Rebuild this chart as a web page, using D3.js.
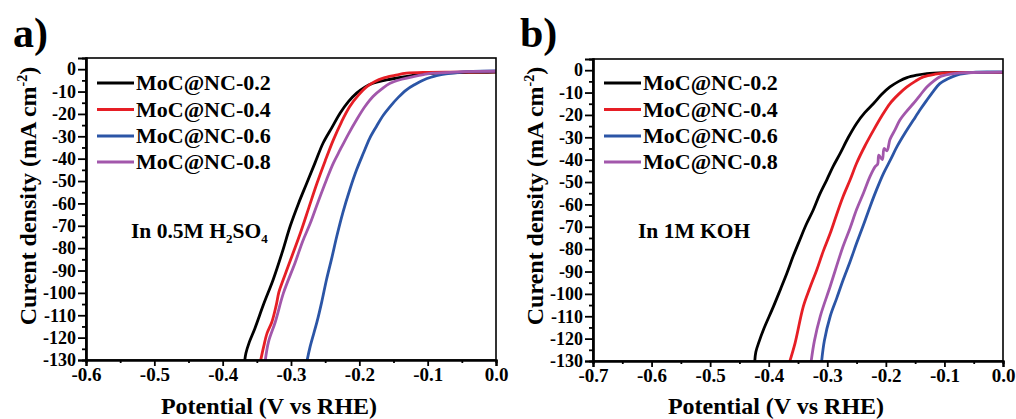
<!DOCTYPE html>
<html>
<head>
<meta charset="utf-8">
<script src="https://cdn.jsdelivr.net/npm/d3@7"></script>
<style>
  html, body { margin: 0; padding: 0; background: #fff; }
  svg { display: block; }
  text { font-family: "Liberation Serif", "Times New Roman", serif; font-weight: bold; fill: #000; }
</style>
</head>
<body>
<svg id="chart" width="1016" height="419"></svg>
<script>
// ---- data: [potential (V vs RHE), current density (mA cm^-2)] ----
const seriesNames = ["MoC@NC-0.2", "MoC@NC-0.4", "MoC@NC-0.6", "MoC@NC-0.8"];
const seriesColors = ["#000000", "#e61e25", "#2b55a6", "#a257ab"];

// 0.5 M H2SO4
const acid02 = [[-0.368,-131],[-0.366,-127],[-0.361,-122],[-0.353,-116],[-0.340,-105],[-0.326,-94],[-0.313,-82],[-0.301,-70],[-0.289,-60],[-0.277,-51],[-0.265,-42],[-0.253,-33],[-0.240,-26],[-0.228,-19.6],[-0.216,-14.5],[-0.204,-10.7],[-0.192,-8],[-0.180,-6.3],[-0.167,-5.2],[-0.155,-4.5],[-0.130,-3.2],[-0.107,-2.1],[-0.080,-1.7],[-0.050,-1.5],[-0.020,-1.4],[0,-1.3]];
const acid04 = [[-0.345,-131],[-0.340,-124],[-0.335,-118],[-0.328,-113],[-0.322,-106],[-0.318,-100],[-0.316,-98],[-0.304,-88],[-0.286,-73],[-0.274,-62],[-0.262,-51],[-0.250,-41],[-0.238,-31.6],[-0.226,-23.5],[-0.214,-16.7],[-0.201,-11.5],[-0.189,-7.8],[-0.177,-5.5],[-0.165,-4],[-0.148,-2.8],[-0.131,-1.8],[-0.100,-1.4],[-0.060,-1.3],[0,-1.2]];
const acid06 = [[-0.277,-131],[-0.272,-124],[-0.262,-113],[-0.255,-104],[-0.248,-94],[-0.240,-84],[-0.233,-74.7],[-0.224,-64],[-0.214,-53.9],[-0.204,-45],[-0.194,-37.5],[-0.185,-31],[-0.175,-25.6],[-0.165,-20.6],[-0.155,-16.7],[-0.143,-12.6],[-0.131,-9.2],[-0.118,-6.7],[-0.106,-4.8],[-0.094,-3.5],[-0.082,-2.5],[-0.060,-1.6],[-0.034,-1.0],[0,-0.8]];
const acid08 = [[-0.338,-131],[-0.333,-122],[-0.323,-113],[-0.311,-100],[-0.294,-86.5],[-0.283,-77],[-0.272,-69],[-0.260,-59],[-0.248,-49.4],[-0.238,-42],[-0.228,-36],[-0.216,-29],[-0.204,-22.6],[-0.192,-16.8],[-0.180,-12.2],[-0.167,-8.8],[-0.155,-6.3],[-0.138,-4.5],[-0.121,-3.3],[-0.106,-2.4],[-0.092,-1.8],[-0.060,-1.3],[-0.030,-1.0],[0,-0.9]];

// 1 M KOH
const alk02 = [[-0.424,-131],[-0.422,-126],[-0.416,-121],[-0.409,-116],[-0.392,-105.7],[-0.380,-98],[-0.369,-90.8],[-0.358,-83],[-0.347,-75.9],[-0.336,-69],[-0.324,-62.5],[-0.313,-55.5],[-0.301,-49.1],[-0.290,-43],[-0.278,-37.2],[-0.264,-30],[-0.250,-23.8],[-0.236,-19],[-0.221,-14.9],[-0.207,-10.8],[-0.193,-7.5],[-0.178,-5],[-0.164,-3.3],[-0.147,-2.2],[-0.130,-1.5],[-0.100,-1.1],[-0.050,-1.0],[0,-1.0]];
const alk04 = [[-0.365,-131],[-0.355,-122],[-0.341,-105.7],[-0.330,-97.5],[-0.318,-89.3],[-0.307,-81],[-0.295,-72.9],[-0.284,-64.5],[-0.273,-56.5],[-0.261,-49],[-0.250,-41.6],[-0.236,-34],[-0.221,-26.8],[-0.207,-20.5],[-0.193,-14.9],[-0.178,-10.7],[-0.164,-7.5],[-0.150,-5],[-0.136,-3],[-0.116,-1.8],[-0.096,-1.2],[-0.050,-1.0],[0,-1.0]];
const alk06 = [[-0.310,-131],[-0.305,-121],[-0.295,-110],[-0.284,-102],[-0.273,-93.8],[-0.261,-85.5],[-0.250,-77.4],[-0.238,-69],[-0.227,-61],[-0.216,-53.5],[-0.204,-46.1],[-0.192,-40],[-0.181,-34.2],[-0.167,-28],[-0.153,-22.3],[-0.141,-17.5],[-0.130,-13.4],[-0.119,-9.5],[-0.108,-6],[-0.094,-3.8],[-0.079,-2.2],[-0.051,-1.0],[-0.020,-0.8],[0,-0.8]];
const alk08 = [[-0.328,-131],[-0.322,-121],[-0.312,-110],[-0.295,-96.6],[-0.284,-87.5],[-0.273,-78.7],[-0.261,-70.5],[-0.250,-62.3],[-0.238,-54.8],[-0.227,-47.5],[-0.218,-43],[-0.214,-42],[-0.212,-38],[-0.206,-40],[-0.203,-35],[-0.198,-36],[-0.193,-31],[-0.184,-26.5],[-0.176,-22.3],[-0.165,-18.5],[-0.153,-14.9],[-0.141,-11],[-0.130,-7.5],[-0.119,-5],[-0.108,-3],[-0.090,-1.8],[-0.073,-1.2],[-0.040,-1.0],[0,-0.9]];

const yMajorTicks = [0,-10,-20,-30,-40,-50,-60,-70,-80,-90,-100,-110,-120,-130];
const yMinorTicks = [-5,-15,-25,-35,-45,-55,-65,-75,-85,-95,-105,-115,-125];
const xTicksAcid = [-0.6,-0.5,-0.4,-0.3,-0.2,-0.1,0.0];
const xMinorAcid = [-0.55,-0.45,-0.35,-0.25,-0.15,-0.05];
const xTicksAlk = [-0.7,-0.6,-0.5,-0.4,-0.3,-0.2,-0.1,0.0];
const xMinorAlk = [-0.65,-0.55,-0.45,-0.35,-0.25,-0.15,-0.05];

const svg = d3.select("#chart");
const serif = '"Liberation Serif", "Times New Roman", serif';

function drawPanel(cfg) {
  const { left, right, top, bottom, xDomain, xTicks, xMinor, series, tag, note, clipId } = cfg;
  const x = d3.scaleLinear().domain(xDomain).range([left, right]);
  const y = d3.scaleLinear().domain([-130, 5]).range([bottom, top]);
  const g = svg.append("g");

  g.append("clipPath").attr("id", clipId)
    .append("rect").attr("x", left).attr("y", top).attr("width", right - left).attr("height", bottom - top);

  // curves
  const line = d3.line().x(d => x(d[0])).y(d => y(d[1])).curve(d3.curveCatmullRom.alpha(0.5));
  const order = [0, 1, 2, 3];
  g.append("g").attr("clip-path", `url(#${clipId})`)
    .selectAll("path").data(order).join("path")
    .attr("d", i => line(series[i]))
    .attr("fill", "none")
    .attr("stroke", i => seriesColors[i])
    .attr("stroke-width", 2.8)
    .attr("stroke-linejoin", "round");

  // frame
  g.append("rect").attr("x", left).attr("y", top).attr("width", right - left).attr("height", bottom - top)
    .attr("fill", "none").attr("stroke", "#000").attr("stroke-width", 1.6);

  // y axis
  const yAxis = g.append("g").attr("transform", `translate(${left},0)`)
    .call(d3.axisLeft(y).tickValues(yMajorTicks).tickSize(8).tickPadding(2).tickFormat(d => String(d)))
    .attr("font-family", serif).attr("font-size", 18).attr("font-weight", "bold");
  const yMinor = g.append("g").attr("transform", `translate(${left},0)`)
    .call(d3.axisLeft(y).tickValues(yMinorTicks).tickSize(4).tickFormat(""));

  // x axis
  const xAxis = g.append("g").attr("transform", `translate(0,${bottom})`)
    .call(d3.axisBottom(x).tickValues(xTicks).tickSize(6).tickPadding(2).tickFormat(d => d.toFixed(1)))
    .attr("font-family", serif).attr("font-size", 19).attr("font-weight", "bold");
  const xMinorG = g.append("g").attr("transform", `translate(0,${bottom})`)
    .call(d3.axisBottom(x).tickValues(xMinor).tickSize(3).tickFormat(""));

  [yAxis, yMinor, xAxis, xMinorG].forEach(a => {
    a.select(".domain").attr("stroke", "#000").attr("stroke-width", 2.2);
    a.selectAll(".tick line").attr("stroke", "#000").attr("stroke-width", 1.8);
    a.selectAll(".tick text").attr("fill", "#000");
  });

  // axis titles
  const yt = g.append("text")
    .attr("transform", `translate(${left - 50},196) rotate(-90)`)
    .attr("text-anchor", "middle").style("font-size", "24px");
  yt.append("tspan").text("Curent density (mA cm");
  yt.append("tspan").attr("dy", -9).style("font-size", "14px").text("-2");
  yt.append("tspan").attr("dy", 9).text(")");

  g.append("text").attr("x", (left + right) / 2 - 22).attr("y", 414)
    .attr("text-anchor", "middle").style("font-size", "24px").text("Potential (V vs RHE)");

  // panel tag
  g.append("text").attr("x", left - 73).attr("y", 47).style("font-size", "42px").text(tag);

  // legend
  const rowsY = [83, 109.5, 136, 162];
  const leg = g.append("g");
  seriesNames.forEach((name, i) => {
    leg.append("line").attr("x1", left + 11).attr("x2", left + 48)
      .attr("y1", rowsY[i]).attr("y2", rowsY[i])
      .attr("stroke", seriesColors[i]).attr("stroke-width", 3);
    leg.append("text").attr("x", left + 50).attr("y", rowsY[i] + 7)
      .style("font-size", "22px").text(name);
  });

  // electrolyte note
  const nt = g.append("text").attr("x", left + 45).attr("y", 238).style("font-size", "21.5px");
  note.forEach(p => {
    const t = nt.append("tspan").text(p.t);
    if (p.sub) t.attr("dy", 5).style("font-size", "13px");
    else if (p.back) t.attr("dy", -5);
  });
}

drawPanel({
  left: 86, right: 496, top: 58, bottom: 360,
  xDomain: [-0.6, 0], xTicks: xTicksAcid, xMinor: xMinorAcid,
  series: [acid02, acid04, acid06, acid08], tag: "a)", clipId: "clipA",
  note: [{ t: "In 0.5M H" }, { t: "2", sub: true }, { t: "SO", back: true }, { t: "4", sub: true }]
});

drawPanel({
  left: 593, right: 1003, top: 59, bottom: 361,
  xDomain: [-0.7, 0], xTicks: xTicksAlk, xMinor: xMinorAlk,
  series: [alk02, alk04, alk06, alk08], tag: "b)", clipId: "clipB",
  note: [{ t: "In 1M KOH" }]
});
</script>
</body>
</html>
